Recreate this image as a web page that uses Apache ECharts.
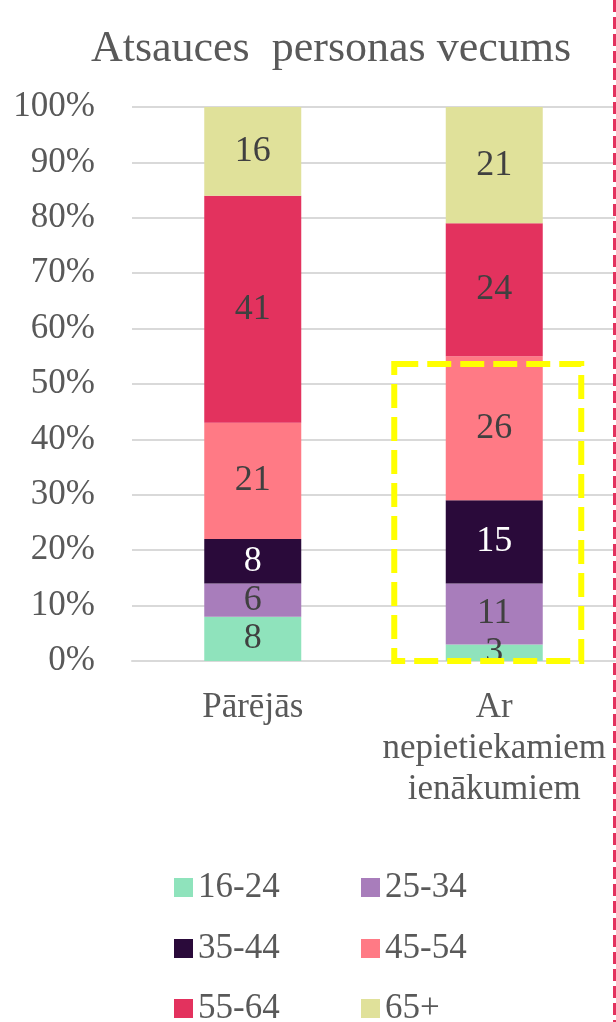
<!DOCTYPE html>
<html>
<head>
<meta charset="utf-8">
<script src="https://cdn.jsdelivr.net/npm/echarts@6/dist/echarts.min.js"></script>
<style>
  html, body { margin: 0; padding: 0; background: #fff; }
  #chart { width: 616px; height: 1022px; }
</style>
</head>
<body>
<div id="chart"></div>
<script>
var categories = ['Pārējās', 'Ar\nnepietiekamiem\nienākumiem'];
var ageGroups = ['16-24', '25-34', '35-44', '45-54', '55-64', '65+'];
var v1624 = [8, 3];
var v2534 = [6, 11];
var v3544 = [8, 15];
var v4554 = [21, 26];
var v5564 = [41, 24];
var v65 = [16, 21];
var colors = ['#8fe3bc', '#a87dbb', '#2a0a3a', '#ff7a85', '#e3325e', '#e0e19a'];
var labelColors = ['#404040', '#404040', '#ffffff', '#404040', '#404040', '#404040'];
var allValues = [v1624, v2534, v3544, v4554, v5564, v65];
var highlightTop = 53.6; // dashed box top, in %

var font = '"Liberation Serif", "DejaVu Serif", serif';
var chart = echarts.init(document.getElementById('chart'));

var series = [];
for (var i = 0; i < ageGroups.length; i++) {
    series.push({
        name: ageGroups[i],
        type: 'bar',
        stack: 'total',
        barWidth: 97,
        data: allValues[i],
        itemStyle: { color: colors[i] },
        label: {
            show: true,
            position: 'inside',
            color: labelColors[i],
            fontFamily: font,
            fontSize: 36
        }
    });
}

// one legend per item, laid out as 2 columns x 3 rows
var legendLeft = [169, 356];
var legendRowY = [885, 946, 1006];
var legends = [];
for (var k = 0; k < ageGroups.length; k++) {
    legends.push({
        data: [ageGroups[k]],
        left: legendLeft[k % 2],
        top: legendRowY[Math.floor(k / 2)] - 20,
        itemWidth: 19, itemHeight: 19,
        icon: 'rect',
        textStyle: { fontFamily: font, fontSize: 35, color: '#595959' }
    });
}

chart.setOption({
    animation: false,
    title: {
        text: 'Atsauces  personas vecums',
        left: 326,
        top: 22,
        textAlign: 'center',
        textStyle: { fontFamily: font, fontSize: 44, fontWeight: 'normal', color: '#595959' }
    },
    grid: { left: 132, top: 107, width: 483, height: 554, containLabel: false },
    legend: legends,
    xAxis: {
        type: 'category',
        data: categories,
        axisLine: { lineStyle: { color: '#d9d9d9', width: 2 } },
        axisTick: { show: false },
        axisLabel: {
            interval: 0,
            margin: 26,
            fontFamily: font, fontSize: 35, color: '#595959',
            lineHeight: 41
        }
    },
    yAxis: {
        type: 'value',
        min: 0, max: 100, interval: 10,
        axisLabel: {
            formatter: '{value}%',
            fontFamily: font, fontSize: 35, color: '#595959', margin: 37
        },
        splitLine: { lineStyle: { color: '#d9d9d9', width: 2 } }
    },
    series: series
});

// annotations: dashed highlight around the second bar and the red divider on the right
var p0 = chart.convertToPixel({ xAxisIndex: 0, yAxisIndex: 0 }, [1, 0]);
var p1 = chart.convertToPixel({ xAxisIndex: 0, yAxisIndex: 0 }, [1, highlightTop]);
chart.setOption({
    graphic: [{
        type: 'rect',
        shape: { x: p0[0] - 100, y: p1[1], width: 187, height: p0[1] - p1[1] },
        style: { fill: 'none', stroke: '#ffff00', lineWidth: 6, lineDash: [24, 9] },
        z: 100
    }, {
        type: 'line',
        shape: { x1: 614.5, y1: 0, x2: 614.5, y2: 1022 },
        style: { stroke: '#e3325e', lineWidth: 3, lineDash: [12, 5] },
        z: 100
    }]
});
</script>
</body>
</html>
